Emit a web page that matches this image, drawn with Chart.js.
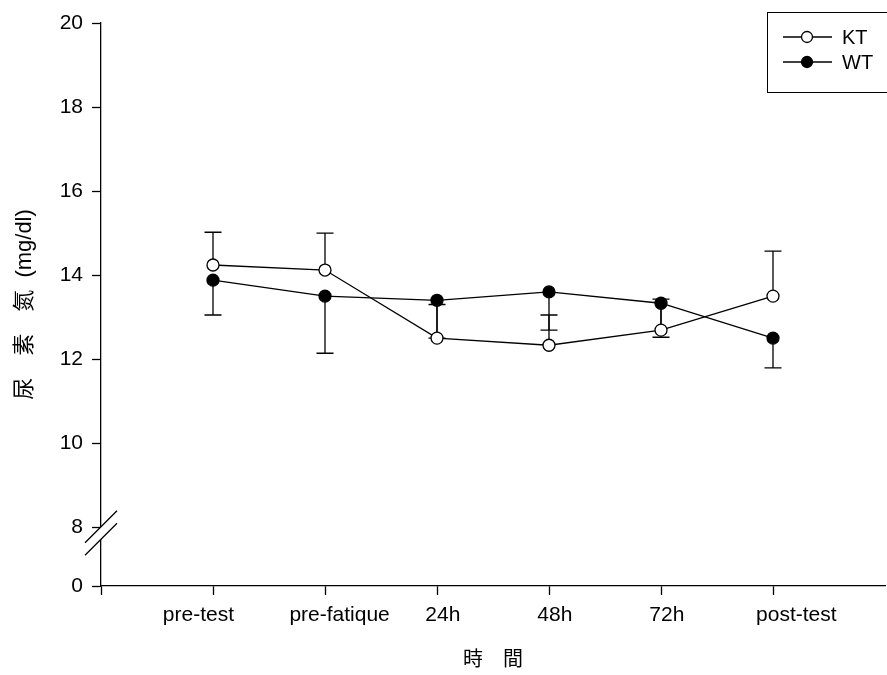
<!DOCTYPE html>
<html>
<head>
<meta charset="utf-8">
<script src="https://cdn.jsdelivr.net/npm/chart.js@4.4.0/dist/chart.umd.min.js"></script>
<style>
html, body { margin: 0; padding: 0; background: #fff; }
</style>
</head>
<body>
<canvas id="chart" width="887" height="675"></canvas>
<script>
// 時間點
const timeLabels = ['pre-test', 'pre-fatique', '24h', '48h', '72h', 'post-test'];
// 尿素氮平均值 (mg/dl)
const ktValues = [14.24, 14.12, 12.50, 12.33, 12.69, 13.50];
const wtValues = [13.88, 13.50, 13.40, 13.60, 13.33, 12.50];
// 誤差線端點 (KT 向上, WT 向下)
const ktErrTop = [15.02, 15.00, 13.30, 13.05, 13.43, 14.57];
const wtErrBottom = [13.05, 12.14, 12.50, 12.69, 12.52, 11.79];
// y 軸刻度 (斷軸: 0 畫在 8 的下方)
const yTicks = [0, 8, 10, 12, 14, 16, 18, 20];
const breakBase = 6.6;

const fontFamily = "'Liberation Sans', Arial, 'Noto Sans CJK TC', sans-serif";
// x 軸文字微調 (正數: 往右, 負數: 往左, 以空白數計)
const labelNudge = [-5, 5, 2, 2, 2, 8];

function nudgeLabel(text, n) {
    const pad = ' '.repeat(Math.abs(n));
    return n > 0 ? pad + text : text + pad;
}

// 誤差線
const errorBarPlugin = {
    id: 'errorBars',
    beforeDatasetsDraw(chart) {
        const ctx = chart.ctx;
        const xs = chart.scales.x, ys = chart.scales.y;
        ctx.save();
        ctx.strokeStyle = '#000';
        ctx.lineWidth = 1.3;
        const drawBar = (vals, ends) => {
            vals.forEach((v, i) => {
                const x = xs.getPixelForValue(i + 1);
                const y0 = ys.getPixelForValue(v);
                const y1 = ys.getPixelForValue(ends[i]);
                ctx.beginPath();
                ctx.moveTo(x, y0); ctx.lineTo(x, y1);
                ctx.moveTo(x - 8.5, y1); ctx.lineTo(x + 8.5, y1);
                ctx.stroke();
            });
        };
        drawBar(ktValues, ktErrTop);
        drawBar(wtValues, wtErrBottom);
        ctx.restore();
    }
};

// 斷軸記號
const axisBreakPlugin = {
    id: 'axisBreak',
    afterDraw(chart) {
        const ctx = chart.ctx;
        const ys = chart.scales.y;
        const ax = chart.chartArea.left;
        const p8 = ys.getPixelForValue(8);
        const a = p8 - 0.5, b = p8 + 12;
        ctx.save();
        ctx.fillStyle = '#fff';
        ctx.beginPath();
        ctx.moveTo(ax - 3, a + 3); ctx.lineTo(ax + 3, a - 3);
        ctx.lineTo(ax + 3, b - 3); ctx.lineTo(ax - 3, b + 3);
        ctx.closePath();
        ctx.fill();
        ctx.strokeStyle = '#000';
        ctx.lineWidth = 1.3;
        ctx.beginPath();
        ctx.moveTo(ax - 16, a + 16); ctx.lineTo(ax + 16, a - 16);
        ctx.moveTo(ax - 16, b + 16); ctx.lineTo(ax + 16, b - 16);
        ctx.stroke();
        ctx.restore();
    }
};

// 圖例
const boxLegendPlugin = {
    id: 'boxLegend',
    afterDraw(chart) {
        const ctx = chart.ctx;
        ctx.save();
        ctx.strokeStyle = '#000';
        ctx.lineWidth = 1;
        ctx.strokeRect(767.5, 12.5, 130, 80);
        const items = [
            { label: 'KT', fill: '#fff', y: 37 },
            { label: 'WT', fill: '#000', y: 62 }
        ];
        items.forEach(it => {
            ctx.lineWidth = 1.3;
            ctx.beginPath();
            ctx.moveTo(783, it.y); ctx.lineTo(832, it.y);
            ctx.stroke();
            ctx.beginPath();
            ctx.arc(807, it.y, 5.5, 0, Math.PI * 2);
            ctx.fillStyle = it.fill;
            ctx.fill();
            ctx.stroke();
            ctx.fillStyle = '#000';
            ctx.font = "20px " + fontFamily;
            ctx.textBaseline = 'middle';
            ctx.fillText(it.label, 842, it.y + 1);
        });
        ctx.restore();
    }
};

const ctx = document.getElementById('chart').getContext('2d');
new Chart(ctx, {
    type: 'line',
    data: {
        datasets: [
            {
                label: 'WT',
                data: wtValues.map((v, i) => ({ x: i + 1, y: v })),
                borderColor: '#000',
                borderWidth: 1.3,
                backgroundColor: '#000',
                pointBackgroundColor: '#000',
                pointBorderColor: '#000',
                pointRadius: 6,
                pointBorderWidth: 1.3,
                tension: 0
            },
            {
                label: 'KT',
                data: ktValues.map((v, i) => ({ x: i + 1, y: v })),
                borderColor: '#000',
                borderWidth: 1.3,
                backgroundColor: '#fff',
                pointBackgroundColor: '#fff',
                pointBorderColor: '#000',
                pointRadius: 6,
                pointBorderWidth: 1.3,
                tension: 0
            }
        ]
    },
    options: {
        responsive: false,
        animation: false,
        layout: { autoPadding: false, padding: { top: 23, right: 2, left: 0, bottom: 0 } },
        plugins: {
            legend: { display: false },
            tooltip: { enabled: false }
        },
        scales: {
            x: {
                type: 'linear',
                min: 0,
                max: 7,
                afterBuildTicks: (scale) => {
                    scale.ticks = [0, 1, 2, 3, 4, 5, 6].map(v => ({ value: v }));
                },
                afterFit: (scale) => {
                    scale.height = 89;
                    scale.paddingLeft = 0;
                    scale.paddingRight = 0;
                },
                ticks: {
                    autoSkip: false,
                    maxRotation: 0,
                    color: '#000',
                    font: { family: fontFamily, size: 21 },
                    padding: 8,
                    callback: (v) => (v >= 1 ? nudgeLabel(timeLabels[v - 1], labelNudge[v - 1]) : '')
                },
                grid: {
                    drawOnChartArea: false,
                    color: '#000',
                    tickLength: 9,
                    tickWidth: 1.3
                },
                border: { color: '#000', width: 1.3 },
                title: {
                    display: true,
                    text: '時　間',
                    color: '#000',
                    font: { family: fontFamily, size: 20 },
                    padding: { top: 0, bottom: 3 }
                }
            },
            y: {
                type: 'linear',
                min: breakBase,
                max: 20,
                afterBuildTicks: (scale) => {
                    scale.ticks = yTicks.map(v => ({ value: v === 0 ? breakBase : v }));
                },
                afterFit: (scale) => {
                    scale.width = 101;
                    scale.paddingTop = 0;
                    scale.paddingBottom = 0;
                },
                ticks: {
                    autoSkip: false,
                    color: '#000',
                    font: { family: fontFamily, size: 21 },
                    padding: 9,
                    callback: (v) => (Math.abs(v - breakBase) < 1e-6 ? '0' : v)
                },
                grid: {
                    drawOnChartArea: false,
                    color: '#000',
                    tickLength: 9,
                    tickWidth: 1.3
                },
                border: { color: '#000', width: 1.3 },
                title: {
                    display: true,
                    text: '尿　素　氮  (mg/dl)',
                    color: '#000',
                    font: { family: fontFamily, size: 22 },
                    padding: { top: 12, bottom: 0 }
                }
            }
        }
    },
    plugins: [errorBarPlugin, axisBreakPlugin, boxLegendPlugin]
});
</script>
</body>
</html>
